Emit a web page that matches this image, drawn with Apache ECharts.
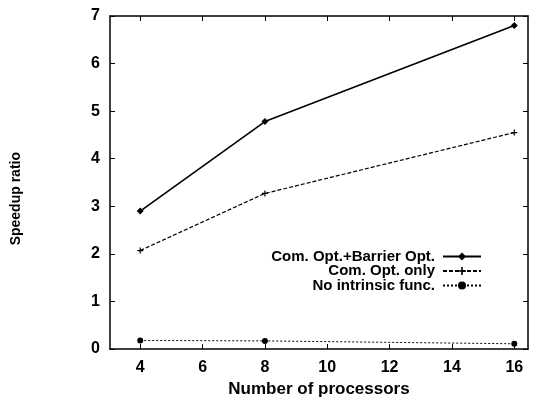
<!DOCTYPE html>
<html><head><meta charset="utf-8">
<script src="https://cdn.jsdelivr.net/npm/echarts@6/dist/echarts.min.js"></script>
<style>html,body{margin:0;padding:0;background:#fff}#c{width:534px;height:399px}</style>
</head><body><div id="c"></div>
<script>
const processors = [4, 8, 16];
const xTicks = [4, 6, 8, 10, 12, 14, 16];
const barrierOpt = [2.90, 4.78, 6.80];
const comOptOnly = [2.07, 3.27, 4.55];
const noIntrinsic = [0.18, 0.17, 0.11];
const seriesNames = ['Com. Opt.+Barrier Opt.', 'Com. Opt. only', 'No intrinsic func.'];

const pts = arr => processors.map((p, i) => [p, arr[i]]);
const plusPath = 'path://M4,0L6,0L6,4L10,4L10,6L6,6L6,10L4,10L4,6L0,6L0,4L4,4Z';
const font = 'Liberation Sans, Arial, Helvetica, sans-serif';
const lbl = {color: '#000', fontFamily: font, fontWeight: 'bold', fontSize: 16};

const chart = echarts.init(document.getElementById('c'), null, {renderer: 'canvas'});
chart.setOption({
  animation: false,
  backgroundColor: '#fff',
  grid: {left: 110, right: 6, top: 16, bottom: 50, show: false, containLabel: false, outerBoundsMode: 'none'},
  legend: {
    orient: 'vertical', right: 47, top: 244, align: 'right',
    itemWidth: 38, itemHeight: 10, itemGap: -0.5,
    textStyle: {color: '#000', fontFamily: font, fontWeight: 'bold', fontSize: 15, padding: [0, 3, 0, 0]},
    data: seriesNames
  },
  xAxis: [{
    type: 'value', min: 3.03, max: 16.44,
    name: 'Number of processors', nameLocation: 'middle', nameGap: 27,
    nameTextStyle: {color: '#000', fontFamily: font, fontWeight: 'bold', fontSize: 17},
    axisLine: {show: true, onZero: false, lineStyle: {color: '#000', width: 1.5}},
    axisTick: {show: true, inside: true, length: 5, customValues: xTicks, lineStyle: {color: '#000'}},
    axisLabel: Object.assign({customValues: xTicks, margin: 11}, lbl),
    splitLine: {show: false}
  }, {
    type: 'value', position: 'top', min: 3.03, max: 16.44,
    axisLine: {show: true, onZero: false, lineStyle: {color: '#000', width: 1.5}},
    axisTick: {show: true, inside: true, length: 5, customValues: xTicks, lineStyle: {color: '#000'}},
    axisLabel: {show: false}, splitLine: {show: false}
  }],
  yAxis: [{
    type: 'value', min: 0, max: 7, interval: 1,
    axisLine: {show: true, onZero: false, lineStyle: {color: '#000', width: 1.5}},
    axisTick: {show: true, inside: true, length: 5, lineStyle: {color: '#000'}},
    axisLabel: Object.assign({margin: 10}, lbl),
    splitLine: {show: false}
  }, {
    type: 'value', position: 'right', min: 0, max: 7, interval: 1,
    axisLine: {show: true, onZero: false, lineStyle: {color: '#000', width: 1.5}},
    axisTick: {show: true, inside: true, length: 5, lineStyle: {color: '#000'}},
    axisLabel: {show: false}, splitLine: {show: false}
  }],
  graphic: [{
    type: 'text', left: 9, top: 152, rotation: Math.PI / 2,
    style: {text: 'Speedup ratio', fill: '#000', font: 'bold 14px ' + font}
  }],
  series: [{
    name: seriesNames[0], type: 'line', data: pts(barrierOpt),
    symbol: 'diamond', symbolSize: 7, showAllSymbol: true,
    lineStyle: {color: '#000', width: 1.6, type: 'solid'},
    itemStyle: {color: '#000'}
  }, {
    name: seriesNames[1], type: 'line', data: pts(comOptOnly),
    symbol: plusPath, symbolSize: 6,
    lineStyle: {color: '#000', width: 1.2, type: [4, 2]},
    itemStyle: {color: '#000'}
  }, {
    name: seriesNames[2], type: 'line', data: pts(noIntrinsic),
    symbol: 'circle', symbolSize: 6,
    lineStyle: {color: '#000', width: 1, type: [2, 2]},
    itemStyle: {color: '#000'}
  }]
});
</script></body></html>
